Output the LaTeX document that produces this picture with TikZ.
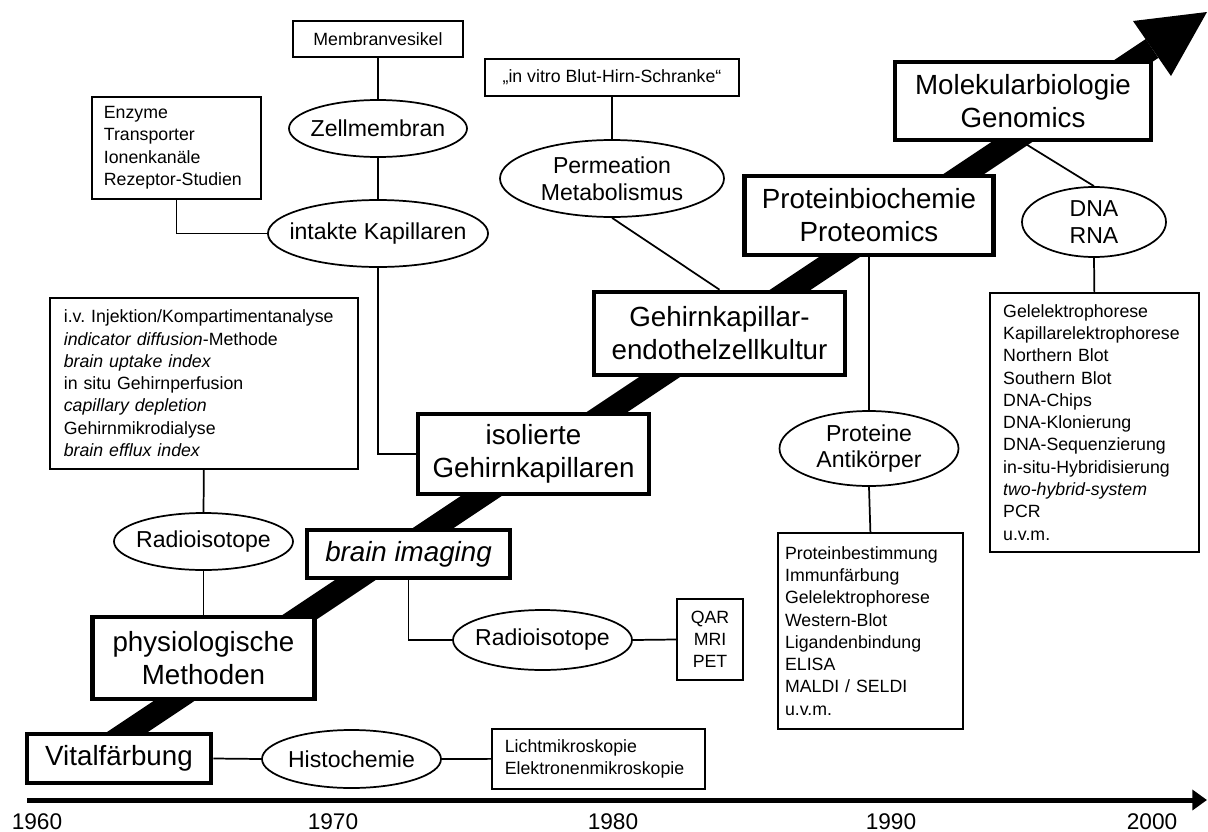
\documentclass[tikz,border=0pt]{standalone}
\usepackage{fontspec}
\setmainfont{Liberation Sans}
\usetikzlibrary{positioning, shapes.geometric, arrows.meta, backgrounds}
\frenchspacing
\tikzset{
  bigbox/.style={draw, line width=3.5pt, fill=white, align=center, inner sep=0pt,
    font=\fontsize{20.8}{24.75}\selectfont},
  oval/.style={ellipse, draw, line width=1.3pt, fill=white, align=center,
    inner xsep=-8pt, inner ysep=0pt, font=\fontsize{17.3}{20}\selectfont},
  listbox/.style={draw, line width=1.3pt, fill=white, align=left, anchor=north west,
    inner ysep=0pt, font=\fontsize{13.3}{16.7}\selectfont},
  smallbox/.style={draw, line width=1.3pt, fill=white, align=center, inner sep=0pt,
    font=\fontsize{13.3}{16.3}\selectfont},
  link/.style={line width=1.3pt},
  yearlbl/.style={anchor=north, inner sep=0pt, font=\fontsize{17}{20}\selectfont}
}

\begin{document}
\begin{tikzpicture}[x=0.75pt, y=-0.75pt]
        \useasboundingbox (0,0) rectangle (1208,832);
        % main stages
        \node[bigbox, minimum width=138pt, minimum height=36.75pt] (vital) at (119,758.5) {Vitalf\"arbung};
        \node[bigbox, minimum width=166.5pt, minimum height=61.5pt] (physio) at (203.5,658) {physiologische\\Methoden};
        \node[bigbox, minimum width=152.25pt, minimum height=36pt] (imaging) at (408.5,554) {\textit{brain imaging}};
        \node[bigbox, minimum width=173.25pt, minimum height=60pt] (isol) at (533.5,454) {isolierte\\Gehirnkapillaren};
        \node[bigbox, minimum width=188.25pt, minimum height=62.25pt] (gehirn) at (719.5,333.5) {Gehirnkapillar-\\endothelzellkultur};
        \node[bigbox, minimum width=186.75pt, minimum height=59.25pt] (protbio) at (869,215.5) {Proteinbiochemie\\Proteomics};
        \node[bigbox, minimum width=192pt, minimum height=58.5pt] (molbio) at (1023,101) {Molekularbiologie\\Genomics};

        % ovals
        \node[oval, minimum width=134.25pt, minimum height=43.5pt] (histo) at (351.5,759) {Histochemie};
        \node[oval, minimum width=134.25pt, minimum height=42.75pt] (radio1) at (203.5,541.5) {Radioisotope};
        \node[oval, minimum width=134.25pt, minimum height=45pt] (radio2) at (542.5,640) {Radioisotope};
        \node[oval, minimum width=133.5pt, minimum height=42.75pt] (zell) at (378,128.5) {Zellmembran};
        \node[oval, minimum width=165pt, minimum height=50.25pt] (intakt) at (378,233.5) {intakte Kapillaren};
        \node[oval, minimum width=168pt, minimum height=57.75pt] (perm) at (612,178.5) {Permeation\\Metabolismus};
        \node[oval, minimum width=134.25pt, minimum height=56.25pt] (prot) at (869,448.5) {Proteine\\Antik\"orper};
        \node[oval, minimum width=108pt, minimum height=52.5pt] (dna) at (1094,222) {DNA\\RNA};

        % small boxes
        \node[smallbox, minimum width=127.5pt, minimum height=27pt] (membox) at (378,39) {Membranvesikel};
        \node[smallbox, minimum width=190.5pt, minimum height=27.75pt] (vitrobox) at (612,77.5) {„in vitro Blut-Hirn-Schranke“};
        \node[smallbox, minimum width=49.5pt, minimum height=60.75pt] (qarbox) at (710,639.5) {QAR\\MRI\\PET};

        % method lists
        \node[listbox, inner xsep=9pt, text width=108.75pt, minimum height=76.5pt] (enzbox) at (91,96)
          {Enzyme\\Transporter\\Ionenkan\"ale\\Rezeptor-Studien};
        \node[listbox, inner xsep=10.5pt, text width=210pt, minimum height=128.25pt] (methbox) at (49,297)
          {i.v. Injektion/Kompartimentanalyse\\\textit{indicator diffusion}-Methode\\\textit{brain uptake index}\\in situ Gehirnperfusion\\\textit{capillary depletion}\\Gehirnmikrodialyse\\\textit{brain efflux index}};
        \node[listbox, inner xsep=9.75pt, text width=140.25pt, minimum height=45pt] (mikrobox) at (491,728)
          {Lichtmikroskopie\\Elektronenmikroskopie};
        \node[listbox, inner xsep=5.4pt, text width=128pt, minimum height=147pt] (protbox) at (777,532)
          {Proteinbestimmung\\Immunf\"arbung\\Gelelektrophorese\\Western-Blot\\Ligandenbindung\\ELISA\\MALDI / SELDI\\u.v.m.};
        \node[listbox, inner xsep=10pt, text width=136.75pt, minimum height=194.25pt] (dnabox) at (989,292)
          {Gelelektrophorese\\Kapillarelektrophorese\\Northern Blot\\Southern Blot\\DNA-Chips\\DNA-Klonierung\\DNA-Sequenzierung\\in-situ-Hybridisierung\\\textit{two-hybrid-system}\\PCR\\u.v.m.};

        % connectors
        \draw[link] (vital.east) -- (histo.west);
        \draw[link] (histo.east) -- (mikrobox.west);
        \draw[link] (methbox.south) -- (radio1.north);
        \draw[link] (radio1.south) -- (physio.north);
        \draw[link] (imaging.south) |- (radio2.west);
        \draw[link] (radio2.east) -- (qarbox.west);
        \draw[link] (isol.west) -| (intakt.south);
        \draw[link] (enzbox.south) |- (intakt.west);
        \draw[link] (intakt.north) -- (zell.south);
        \draw[link] (zell.north) -- (membox.south);
        \draw[link] (perm.north) -- (vitrobox.south);
        \draw[link] (perm.south) -- (gehirn.north);
        \draw[link] (protbio.south) -- (prot.north);
        \draw[link] (prot.south) -- (protbox.north);
        \draw[link] (molbio.south) -- (dna.north);
        \draw[link] (dna.south) -- (dnabox.north);

        % the rising band behind the stages
        \begin{scope}[on background layer]
          \coordinate (bandstart) at (90,757);
          \coordinate (bandend) at (1152,48.5);
          \coordinate (headtip) at (1207,12);
          \coordinate (headleft) at (1133,21);
          \coordinate (headright) at (1171,76);
          \draw[line width=17pt] (bandstart) -- (bandend);
          \fill (headleft) -- (headtip) -- (headright) -- cycle;
        \end{scope}

        % time axis
        \coordinate (tlstart) at (27,800);
        \coordinate (tlend) at (1207,800);
        \draw[line width=3.75pt, -{Triangle[length=11pt,width=15pt]}] (tlstart) -- (tlend);
        \foreach \yr/\xx in {1960/37, 1970/333, 1980/613, 1990/891, 2000/1152}{
          \node[yearlbl] (yr\yr) at (\xx,813) {\yr};
        }
      \end{tikzpicture}
\end{document}
